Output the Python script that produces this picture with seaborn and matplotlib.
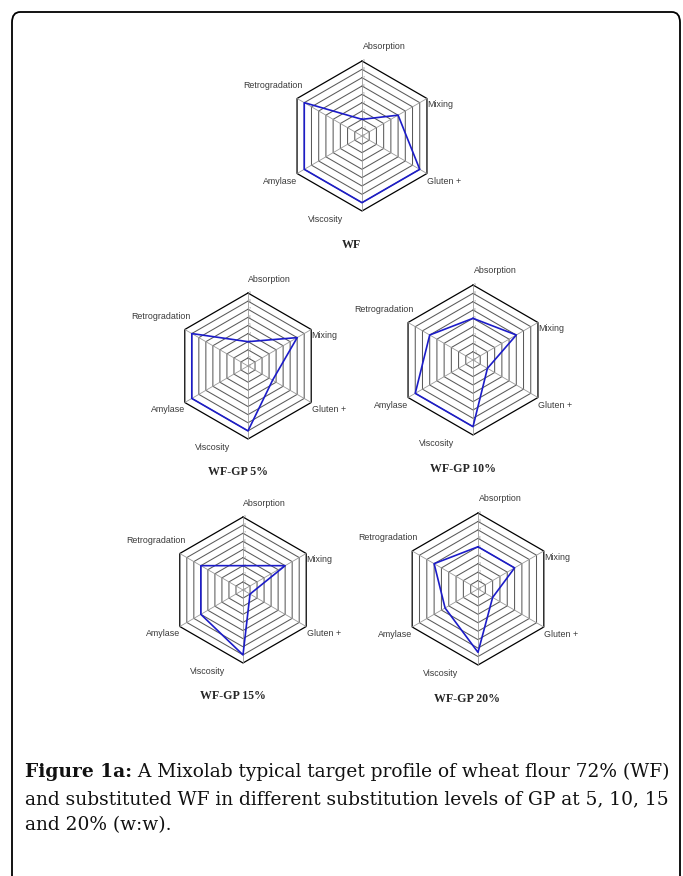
import numpy as np
import pandas as pd
import seaborn as sns
import matplotlib
matplotlib.use('Agg')
import matplotlib.pyplot as plt
from matplotlib.patches import FancyBboxPatch

sns.set_style('white')
plt.rcParams['font.family'] = ['Liberation Sans', 'DejaVu Sans']

#Mixolab profile indices (0-9) for each sample
params = ['Absorption', 'Mixing', 'Gluten +', 'Viscosity', 'Amylase', 'Retrogradation']
wf = [2, 5, 8, 8, 8, 8]
gp5 = [3, 7, 3.5, 8, 8, 8]
gp10 = [5, 6, 2, 8, 8, 6]
gp15 = [3, 6, 1, 8, 6, 6]
gp20 = [5, 5, 2, 7.5, 4.5, 6]
titles = ['WF', 'WF-GP 5%', 'WF-GP 10%', 'WF-GP 15%', 'WF-GP 20%']
levels = list(range(1, 10))

#layout: chart centre (px from top left) and outer radius in px
centres = [(362, 136), (248, 366), (473, 360), (243, 590), (478, 589)]
radii = [75, 73, 75, 73, 76]

W, H = 683, 876
fig = plt.figure(figsize=(W / 100, H / 100), dpi=100)

# frame around the figure
frame = FancyBboxPatch((12 / W, -0.05), (680 - 12) / W, (H - 12) / H + 0.05,
                       boxstyle='round,pad=0,rounding_size=0.012',
                       transform=fig.transFigure, fill=False, lw=1.3, ec='black')
fig.patches.append(frame)

angles = np.deg2rad([90, 30, -30, -90, -150, 150])
# label positions as fraction of the outer radius (x, y, ha)
label_pos = [(0.30, 1.19, 'center'), (0.87, 0.42, 'left'), (0.87, -0.60, 'left'),
             (-0.49, -1.11, 'center'), (-0.86, -0.60, 'right'), (-1.19, 0.68, 'center')]

for values, title, (cx, cy), R in zip([wf, gp5, gp10, gp15, gp20], titles, centres, radii):
    S = 1.6 * R
    ax = fig.add_axes([(cx - S) / W, (H - cy - S) / H, 2 * S / W, 2 * S / H])
    lim = S / R * 9
    ax.set_xlim(-lim, lim)
    ax.set_ylim(-lim, lim)
    ax.axis('off')

    # hexagonal grid
    for lv in levels:
        hx = lv * np.cos(np.append(angles, angles[0]))
        hy = lv * np.sin(np.append(angles, angles[0]))
        ax.plot(hx, hy, color='black' if lv == 9 else '#5a5a5a', lw=0.9 if lv == 9 else 0.75, zorder=1)
    for a in angles:
        ax.plot([0, 9 * np.cos(a)], [0, 9 * np.sin(a)], color='#999999', lw=0.6, zorder=1)
    for lv in range(0, 10):
        ax.text(0.15, lv, str(lv), fontsize=2.5, color='#888888', ha='left', va='center')

    # profile
    v = np.array(values + values[:1], dtype=float)
    a = np.append(angles, angles[0])
    df = pd.DataFrame({'x': v * np.cos(a), 'y': v * np.sin(a)})
    sns.lineplot(data=df, x='x', y='y', sort=False, estimator=None, color='#1c1cc8',
                 lw=1.2, ax=ax, zorder=3)
    ax.set_xlabel('')
    ax.set_ylabel('')

    for name, (lx, ly, ha) in zip(params, label_pos):
        ax.text(lx * 9, ly * 9, name, fontsize=6.4, color='#3a3a3a', ha=ha, va='center')
    ax.text(-0.14 * 9, -1.45 * 9, title, fontsize=8.6, fontweight='bold',
            family='Liberation Serif', ha='center', va='center')

# caption
cap_kw = dict(family='DejaVu Serif', fontsize=13.4, color='#111111')
t = fig.text(25 / W, 1 - 777 / H, 'Figure 1a:', fontweight='bold', va='baseline', **cap_kw)
plt.annotate(' A Mixolab typical target profile of wheat flour 72% (WF)', xy=(1, 0),
             xycoords=t, va='bottom', ha='left', annotation_clip=False, **cap_kw)
fig.text(25 / W, 1 - 804 / H, 'and substituted WF in different substitution levels of GP at 5, 10, 15',
         va='baseline', **cap_kw)
fig.text(25 / W, 1 - 830 / H, 'and 20% (w:w).', va='baseline', **cap_kw)

fig.savefig('out.png', dpi=100)
